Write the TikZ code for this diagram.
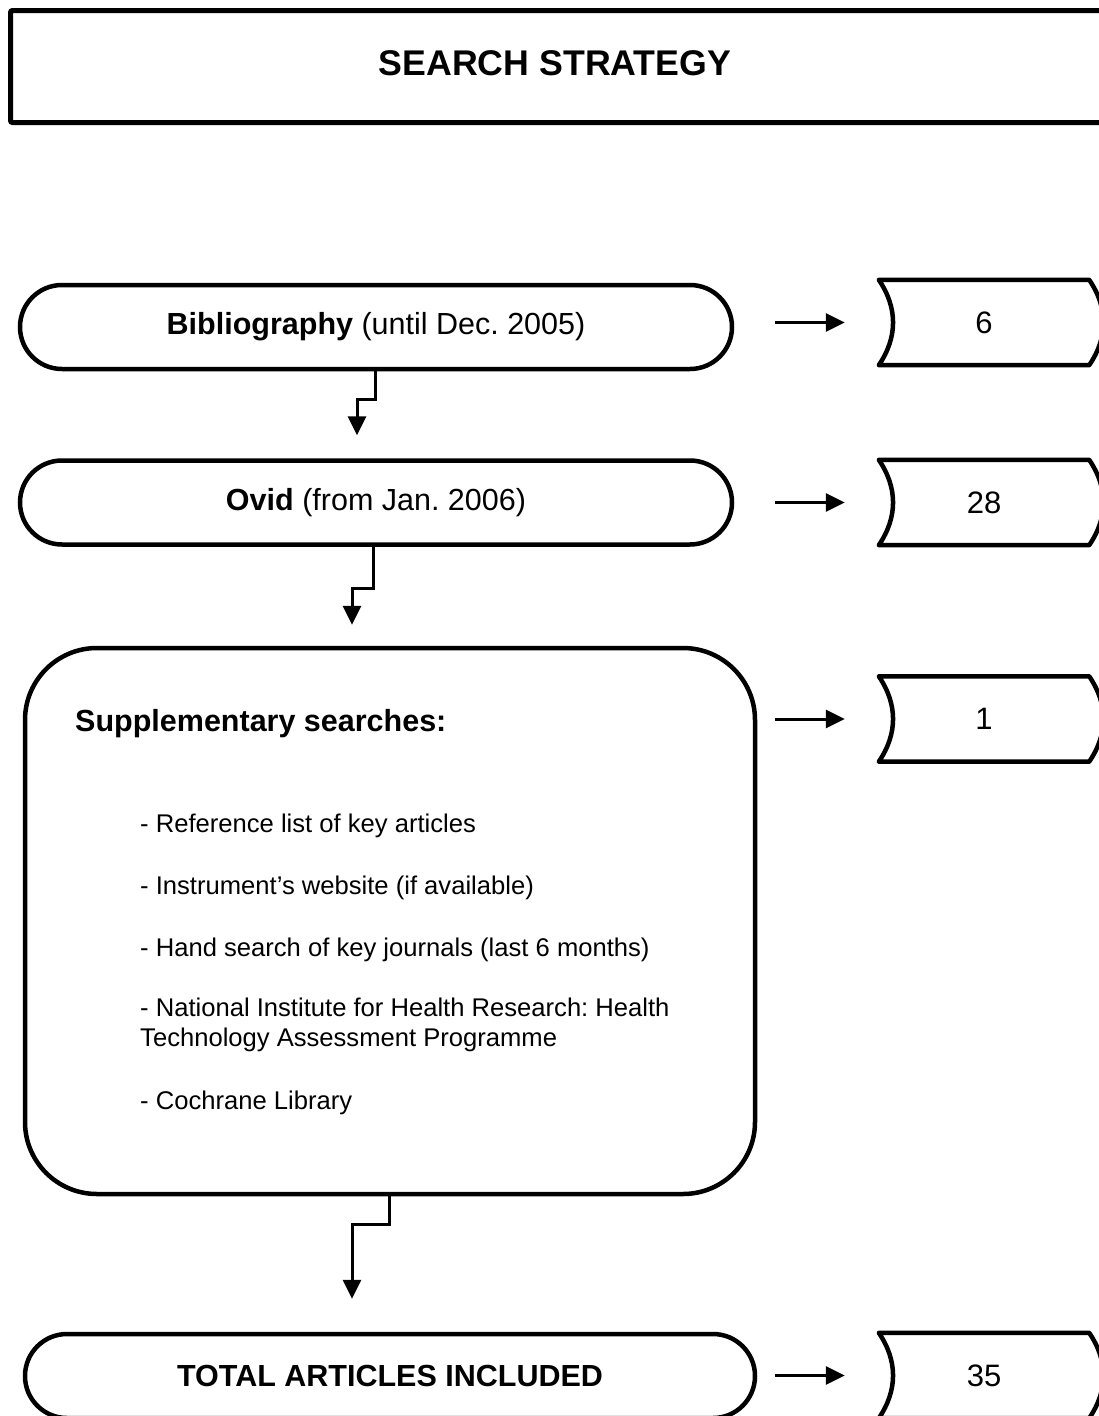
\documentclass[tikz,border=0pt]{standalone}
\usepackage{fontspec}
\setmainfont{Liberation Sans}
\usetikzlibrary{arrows.meta}
\frenchspacing
\tikzset{
  stadium/.style={draw, line width=4.5pt, rounded corners=42pt, minimum height=84pt, inner sep=0pt},
  bigbox/.style={draw, line width=4.5pt, rounded corners=72pt, inner sep=0pt},
  conn/.style={line width=3pt, -{Triangle[length=19pt,width=18pt]}},
  numbox/.style={minimum width=210pt, minimum height=85pt, inner sep=0pt},
  numtext/.style={font=\fontsize{31pt}{36pt}\selectfont},
  boxline/.style={line width=4.5pt, line join=round},
  hd/.style={font=\fontsize{30.5pt}{36pt}\selectfont},
  itemtext/.style={font=\fontsize{25.6pt}{30pt}\selectfont, anchor=base west, inner sep=0pt},
}
\newcommand\drawnum[1]{%
  \draw[boxline] (#1.north west) -- (#1.north east)
    .. controls +(19pt,-28pt) and +(19pt,28pt) .. (#1.south east)
    -- (#1.south west)
    .. controls +(19pt,28pt) and +(19pt,-28pt) .. (#1.north west) -- cycle;}
\begin{document}
\begin{tikzpicture}[x=1pt,y=-1pt]
\useasboundingbox (0,0) rectangle (1099,1416);
\clip (0,0) rectangle (1099,1416);
\fill[white] (0,0) rectangle (1099,1416);

% title
\node[draw, line width=5pt, rounded corners=2pt, minimum width=1130pt, minimum height=112pt, anchor=north west, inner sep=0pt] (title) at (8,8) {};
\node[font=\fontsize{35.7pt}{42pt}\selectfont\bfseries] (titletext) at (555,63) {SEARCH STRATEGY};

% main boxes
\node[stadium, minimum width=712pt, hd] (bib) at (376,327) {\textbf{Bibliography} (until Dec. 2005)};
\node[stadium, minimum width=712pt, hd] (ovid) at (376,502.5) {\textbf{Ovid} (from Jan. 2006)};
\node[bigbox, minimum width=730pt, minimum height=546pt] (supp) at (390,921) {};
\node[stadium, minimum width=730pt, minimum height=84pt, hd] (total) at (390,1376) {\textbf{TOTAL ARTICLES INCLUDED}};

% text inside supplementary box
\node[hd, anchor=base west, inner sep=0pt] (supphd) at (75,731) {\textbf{Supplementary searches:}};
\node[itemtext] (i1) at (140,832) {- Reference list of key articles};
\node[itemtext] (i2) at (140,894) {- Instrument’s website (if available)};
\node[itemtext] (i3) at (140,956) {- Hand search of key journals (last 6 months)};
\node[itemtext] (i4) at (140,1016) {- National Institute for Health Research: Health};
\node[itemtext] (i4b) at (140,1046) {Technology Assessment Programme};
\node[itemtext] (i5) at (140,1109) {- Cochrane Library};

% number boxes
\node[numbox] (n6) at (984,322.5) {};
\node[numbox] (n28) at (984,502.5) {};
\node[numbox] (n1) at (984,719) {};
\node[numbox] (n35) at (984,1375.5) {};
\drawnum{n6}
\drawnum{n28}
\drawnum{n1}
\drawnum{n35}
\node[numtext] (t6) at (n6.center) {6};
\node[numtext] (t28) at (n28.center) {28};
\node[numtext] (t1) at (n1.center) {1};
\node[numtext] (t35) at (n35.center) {35};

% horizontal arrows
\draw[conn, shorten <=41pt, shorten >=34pt] (n6.west -| bib.east) -- (n6.west);
\draw[conn, shorten <=41pt, shorten >=34pt] (n28.west -| ovid.east) -- (n28.west);
\draw[conn, shorten <=18pt, shorten >=34pt] (n1.west -| supp.east) -- (n1.west);
\draw[conn, shorten <=18pt, shorten >=34pt] (n35.west -| total.east) -- (n35.west);

% vertical connectors
\draw[conn] ([xshift=-1pt]bib.south) -- ++(0,28) -| ([xshift=-19pt,yshift=23pt]ovid.north);
\draw[conn] ([xshift=-3pt]ovid.south) -- ++(0,42) -| ([xshift=-38pt,yshift=21pt]supp.north);
\draw[conn] ([xshift=-1pt]supp.south) -- ++(0,28) -| ([xshift=-38pt,yshift=33pt]total.north);
\end{tikzpicture}
\end{document}
